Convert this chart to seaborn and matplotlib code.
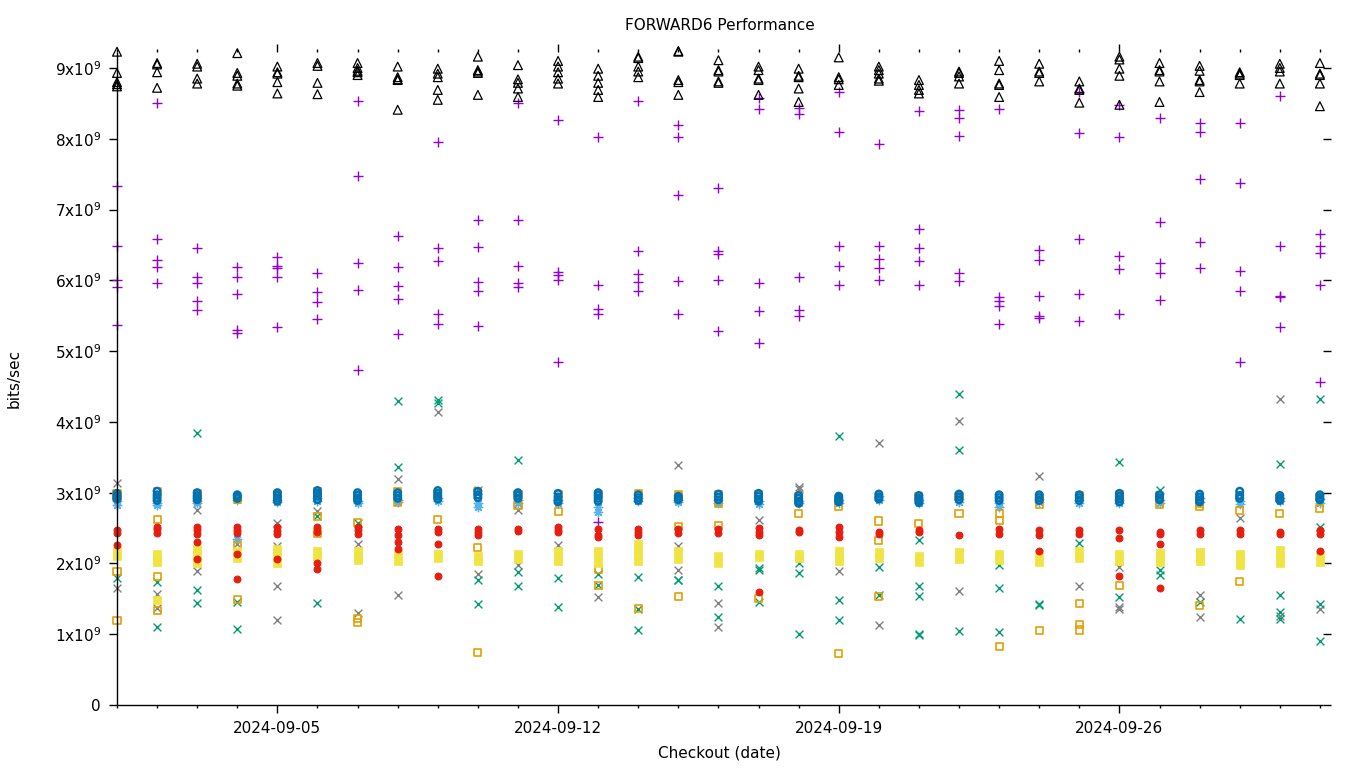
### -------------------- ###
###  Libraries
### -------------------- ###
import numpy as np
import pandas as pd
import matplotlib
matplotlib.use("Agg")
import matplotlib.pyplot as plt
import matplotlib.dates as mdates
import seaborn as sns

### -------------------- ###
###  Data (bits/sec in units of 1e9, one inner list per checkout day)
### -------------------- ###
dates = pd.date_range("2024-09-01", "2024-10-01", freq="D")

purple_plus = [
    [7.33, 6.48, 6.01, 5.91, 5.37], [8.50, 6.58, 6.29, 6.19, 5.96],
    [6.45, 6.04, 5.96, 5.71, 5.58], [6.19, 6.04, 5.80, 5.30, 5.25],
    [6.33, 6.20, 6.17, 6.05, 5.34], [6.10, 5.83, 5.69, 5.45],
    [8.53, 7.48, 6.24, 5.86, 4.73], [6.62, 6.19, 5.92, 5.73, 5.24],
    [7.96, 6.45, 6.27, 5.53, 5.38], [6.85, 6.47, 5.97, 5.85, 5.35],
    [8.50, 6.85, 6.20, 5.96, 5.90], [8.27, 6.12, 6.07, 6.01, 4.84],
    [8.03, 5.93, 5.60, 5.52, 2.59], [8.53, 6.41, 6.09, 5.97, 5.85],
    [8.19, 8.02, 7.20, 5.99, 5.52], [7.31, 6.41, 6.37, 6.01, 5.29],
    [8.57, 8.42, 5.96, 5.56, 5.12], [8.43, 8.35, 6.04, 5.58, 5.50],
    [8.66, 8.09, 6.49, 6.20, 5.94], [7.92, 6.48, 6.30, 6.17, 6.00],
    [8.39, 6.72, 6.45, 6.27, 5.93], [8.41, 8.29, 8.04, 6.11, 5.99],
    [8.42, 5.77, 5.71, 5.64, 5.39], [6.43, 6.29, 5.78, 5.49, 5.47],
    [8.66, 8.08, 6.59, 5.80, 5.43], [8.48, 8.02, 6.35, 6.16, 5.53],
    [8.30, 6.83, 6.25, 6.10, 5.72], [8.22, 8.09, 7.43, 6.54, 6.18],
    [8.22, 7.37, 6.13, 5.85, 4.84], [8.60, 6.49, 5.78, 5.77, 5.34],
    [6.66, 6.48, 6.39, 5.93, 4.56],
]

green_x = [
    [1.80], [1.74, 1.10], [3.84, 1.63, 1.44], [1.45, 1.07], [],
    [3.03, 2.67, 1.44], [2.57], [4.29, 3.36], [4.31, 4.26], [1.77, 1.42],
    [3.46, 1.88, 1.68], [1.79, 1.39], [1.85, 1.69], [1.81, 1.36, 1.06], [1.77, 1.76],
    [1.68, 1.25], [1.93, 1.91, 1.45], [2.00, 1.87, 1.00], [3.80, 1.48, 1.20], [1.95, 1.55],
    [2.33, 1.68, 1.54, 1.00, 0.99], [4.39, 3.60, 1.05], [1.98, 1.65, 1.03], [1.42, 1.41], [2.29],
    [3.44, 1.53], [3.04, 1.91, 1.84], [1.45], [1.21], [3.41, 1.55, 1.31, 1.22],
    [4.32, 2.52, 1.42, 0.91],
]

gray_x = [
    [3.13, 1.65], [1.57, 1.37], [2.75, 1.90], [2.28], [2.57, 2.25, 1.68, 1.20],
    [2.74], [2.27, 1.30], [3.20, 1.56], [4.14], [3.04, 1.85],
    [2.76, 1.98], [2.26], [1.52], [], [3.39, 2.24, 1.91],
    [1.44, 1.10], [2.62], [3.08, 3.05], [1.89], [3.70, 1.13],
    [], [4.01, 1.61], [], [3.23], [1.68],
    [1.95, 1.39, 1.35], [], [1.56, 1.25], [2.64], [4.33, 1.26],
    [1.36],
]

lightblue_star = [
    [2.88, 2.83], [2.86, 2.83], [2.88, 2.85], [2.35, 2.90], [2.90, 2.87],
    [2.92, 2.88], [2.88, 2.86], [2.90, 2.87], [2.92, 2.88], [2.86, 2.80],
    [2.90, 2.86], [2.90, 2.86], [2.80, 2.73], [2.92, 2.88], [2.90, 2.87],
    [2.90, 2.86], [2.88, 2.84], [2.88, 2.85], [2.90, 2.86], [2.95, 2.90],
    [2.90, 2.86], [2.91, 2.87], [2.86, 2.80], [2.91, 2.87], [2.89, 2.86],
    [2.90, 2.86], [2.90, 2.86], [2.92, 2.87], [2.88, 2.84], [2.92, 2.88],
    [2.91, 2.86],
]

orange_sq = [
    [2.99, 2.94, 1.89, 1.20], [3.01, 2.62, 1.82, 1.34], [2.99, 2.92], [2.90, 2.26, 1.49],
    [2.98, 2.93], [3.02, 2.66, 2.43], [2.96, 2.58, 1.22, 1.17], [3.01, 2.86],
    [2.97, 2.62], [3.01, 2.22, 0.74], [2.97, 2.82], [2.98, 2.74],
    [2.98, 1.91, 1.69], [2.99, 1.36], [2.98, 2.52, 1.53], [2.97, 2.85, 2.53],
    [2.97, 1.51], [2.95, 2.70], [2.80, 0.73], [2.60, 2.33, 1.53],
    [2.95, 2.57], [2.95, 2.71], [2.70, 2.61, 0.83], [2.93, 2.84, 1.05],
    [2.96, 1.43, 1.14, 1.06], [2.98, 2.93, 1.69], [2.96, 2.83], [2.85, 2.80, 1.41],
    [2.95, 2.75, 1.75], [2.93, 2.71], [2.93, 2.78],
]

yellow_sq = [
    [2.17, 2.12, 2.10], [2.13, 2.07, 2.02, 1.48], [2.21, 2.15, 2.06, 2.01], [2.17, 2.08],
    [2.20, 2.10, 2.00], [2.17, 2.10], [2.18, 2.10, 2.05], [2.14, 2.03],
    [2.14, 2.07], [2.10, 2.03], [2.14, 2.06], [2.17, 2.10, 2.04],
    [2.17, 2.09, 2.00], [2.27, 2.20, 2.12, 2.03], [2.17, 2.06], [2.10, 2.00],
    [2.13, 2.09], [2.13, 2.08], [2.17, 2.10, 2.04], [2.16, 2.07],
    [2.10, 2.02], [2.16, 2.06], [2.14, 2.05], [2.13, 2.02],
    [2.17, 2.07], [2.14, 2.03], [2.15, 2.08, 2.02], [2.16, 2.09, 2.03],
    [2.13, 2.05, 1.98], [2.19, 2.10, 2.00], [2.12, 2.02],
]

blue_circ = [
    [2.99, 2.96, 2.93, 2.91], [3.02, 2.97, 2.93, 2.89], [3.00, 2.96, 2.93, 2.90], [2.97, 2.95, 2.92],
    [3.00, 2.96, 2.92, 2.88], [3.03, 2.99, 2.95, 2.90], [3.00, 2.96, 2.92, 2.89], [3.00, 2.96, 2.92],
    [3.03, 2.99, 2.95, 2.91], [3.02, 2.97, 2.93], [3.00, 2.96, 2.92], [2.99, 2.94, 2.90, 2.87],
    [3.00, 2.96, 2.92, 2.88], [2.97, 2.93, 2.89], [2.95, 2.92, 2.90], [2.98, 2.94, 2.90],
    [2.99, 2.95, 2.91, 2.88], [2.96, 2.92, 2.88, 2.85], [2.95, 2.92, 2.89, 2.87], [2.98, 2.94, 2.91],
    [2.96, 2.92, 2.89, 2.86], [2.98, 2.94, 2.90], [2.97, 2.93, 2.89], [2.97, 2.93, 2.89],
    [2.97, 2.93, 2.89], [2.99, 2.95, 2.91, 2.87], [2.97, 2.93, 2.90], [2.98, 2.94, 2.90, 2.87],
    [3.02, 2.96, 2.92], [2.96, 2.92, 2.89], [2.97, 2.93, 2.90],
]

red_dot = [
    [2.47, 2.43, 2.26], [2.52, 2.48, 2.43], [2.52, 2.47, 2.42, 2.31, 2.06], [2.52, 2.47, 2.43, 2.14, 1.78],
    [2.51, 2.46, 2.42, 2.06], [2.51, 2.45, 2.01, 1.92], [2.52, 2.47, 2.42], [2.49, 2.40, 2.30, 2.21],
    [2.49, 2.45, 2.27, 1.82], [2.48, 2.44, 2.40], [2.48, 2.46], [2.51, 2.47, 2.44],
    [2.49, 2.40, 2.37], [2.49, 2.44, 2.40], [2.49, 2.43], [2.49, 2.43],
    [2.50, 2.45, 2.40, 1.59], [2.47, 2.45], [2.51, 2.45, 2.38], [2.45, 2.42],
    [2.47, 2.44], [2.40], [2.48, 2.42], [2.47, 2.40, 2.17],
    [2.47, 2.41], [2.47, 2.36, 1.82], [2.45, 2.41, 2.27, 1.65], [2.47, 2.42],
    [2.47, 2.41], [2.45, 2.42], [2.47, 2.42, 2.17],
]

black_tri = [
    [9.23, 8.93, 8.80, 8.77, 8.74], [9.07, 9.05, 8.94, 8.72], [9.06, 9.02, 8.85, 8.78],
    [9.21, 8.93, 8.89, 8.78, 8.75], [9.02, 8.94, 8.92, 8.80, 8.64], [9.07, 9.03, 8.79, 8.63],
    [9.07, 9.00, 8.96, 8.94, 8.90], [9.02, 8.87, 8.84, 8.83, 8.41], [8.99, 8.92, 8.87, 8.69, 8.55],
    [9.16, 8.97, 8.95, 8.93, 8.62], [9.04, 8.84, 8.79, 8.71, 8.59], [9.10, 9.02, 8.94, 8.85, 8.78],
    [8.99, 8.89, 8.79, 8.69, 8.59], [9.16, 9.14, 9.02, 8.95, 8.87], [9.24, 9.23, 8.83, 8.80, 8.62],
    [9.11, 8.97, 8.95, 8.81, 8.79], [9.02, 8.97, 8.85, 8.83, 8.62], [8.99, 8.89, 8.87, 8.71, 8.52],
    [9.15, 8.87, 8.84, 8.76], [9.02, 8.97, 8.92, 8.85, 8.82], [8.83, 8.76, 8.69, 8.64],
    [8.95, 8.93, 8.88, 8.78], [9.10, 8.97, 8.78, 8.76, 8.59], [9.06, 8.95, 8.93, 8.81],
    [8.81, 8.71, 8.69, 8.51], [9.16, 9.12, 8.99, 8.89, 8.48], [9.07, 8.97, 8.95, 8.81, 8.52],
    [9.03, 8.96, 8.83, 8.81, 8.66], [8.94, 8.92, 8.90, 8.78], [9.06, 9.00, 8.95, 8.78],
    [9.07, 8.92, 8.90, 8.78, 8.46],
]

y_ticks = np.arange(0, 10) * 1e9
y_labels = ["0"] + [r"$\mathregular{%dx10^{9}}$" % i for i in range(1, 10)]


### -------------------- ###
###  Helpers
### -------------------- ###
def to_long(vals, name):
    '''Turn per-day lists into a long df (date, bps, series)'''
    rows = [(d, v * 1e9, name) for d, day in zip(dates, vals) for v in day]
    return pd.DataFrame(rows, columns=["date", "bps", "series"])


# name, values, marker, color, size, open marker?, linewidth  (gnuplot drawing order)
series = [
    ("gray_x", gray_x, "x", "#808080", 32, False, 1.0),
    ("purple_plus", purple_plus, "+", "#9400d3", 50, False, 1.0),
    ("green_x", green_x, "x", "#009e73", 32, False, 1.0),
    ("lightblue_star", lightblue_star, (8, 2, 0), "#56b4e9", 36, False, 1.0),
    ("orange_sq", orange_sq, "s", "#e69f00", 26, True, 1.2),
    ("yellow_sq", yellow_sq, "s", "#f0e442", 28, False, 0.5),
    ("blue_circ", blue_circ, "o", "#0072b2", 22, True, 1.8),
    ("red_dot", red_dot, "o", "#e51e10", 24, False, 0.8),
    ("black_tri", black_tri, "^", "black", 40, True, 0.9),
]

### -------------------- ###
###  Plot
### -------------------- ###
sns.set_style("ticks")
plt.rcParams["font.family"] = ["DejaVu Sans"]
plt.rcParams["font.size"] = 11
plt.rcParams["text.color"] = "black"
plt.rcParams["axes.labelcolor"] = "black"

fig = plt.figure(figsize=(13.6, 7.68), dpi=100)
ax = fig.add_axes([117 / 1360, 63 / 768, 1205.7 / 1360, 653 / 768])

for name, vals, marker, color, size, hollow, lw in series:
    df = to_long(vals, name)
    kws = dict(marker=marker, s=size, linewidth=lw, clip_on=False, legend=False, ax=ax)
    if hollow:
        kws.update(facecolor="none", edgecolor=color, color=color)
    elif marker in ("s", "o", "^"):
        kws.update(color=color, edgecolor=color)
    else:
        kws.update(color=color)
    sns.scatterplot(data=df, x="date", y="bps", **kws)

ax.set_xlim(pd.Timestamp("2024-09-01"), pd.Timestamp("2024-09-01") + pd.Timedelta(days=30.07))
ax.set_ylim(0, 9.226e9)

ax.xaxis.set_major_locator(mdates.DayLocator(bymonthday=[5, 12, 19, 26]))
ax.xaxis.set_minor_locator(mdates.DayLocator())
ax.xaxis.set_major_formatter(mdates.DateFormatter("%Y-%m-%d"))
ax.set_yticks(y_ticks)
ax.set_yticklabels(y_labels)

ax.tick_params(axis="both", which="both", direction="out", top=True, right=True,
               width=1, color="black", labelsize=11, labelcolor="black")
ax.tick_params(axis="both", which="major", length=5.5, pad=6)
ax.tick_params(axis="x", which="minor", length=2.5)
ax.spines["top"].set_visible(False)
ax.spines["right"].set_visible(False)
for s in ("left", "bottom"):
    ax.spines[s].set_color("black")
    ax.spines[s].set_linewidth(1)
    ax.spines[s].set_capstyle("butt")

ax.set_title("FORWARD6 Performance", fontsize=11, pad=16, color="black")
ax.set_xlabel("Checkout (date)", fontsize=11)
ax.set_ylabel("bits/sec", fontsize=11)
ax.xaxis.set_label_coords(0.5, -0.062)
ax.yaxis.set_label_coords(-0.079, 0.5)

fig.savefig("out.png", dpi=100)
